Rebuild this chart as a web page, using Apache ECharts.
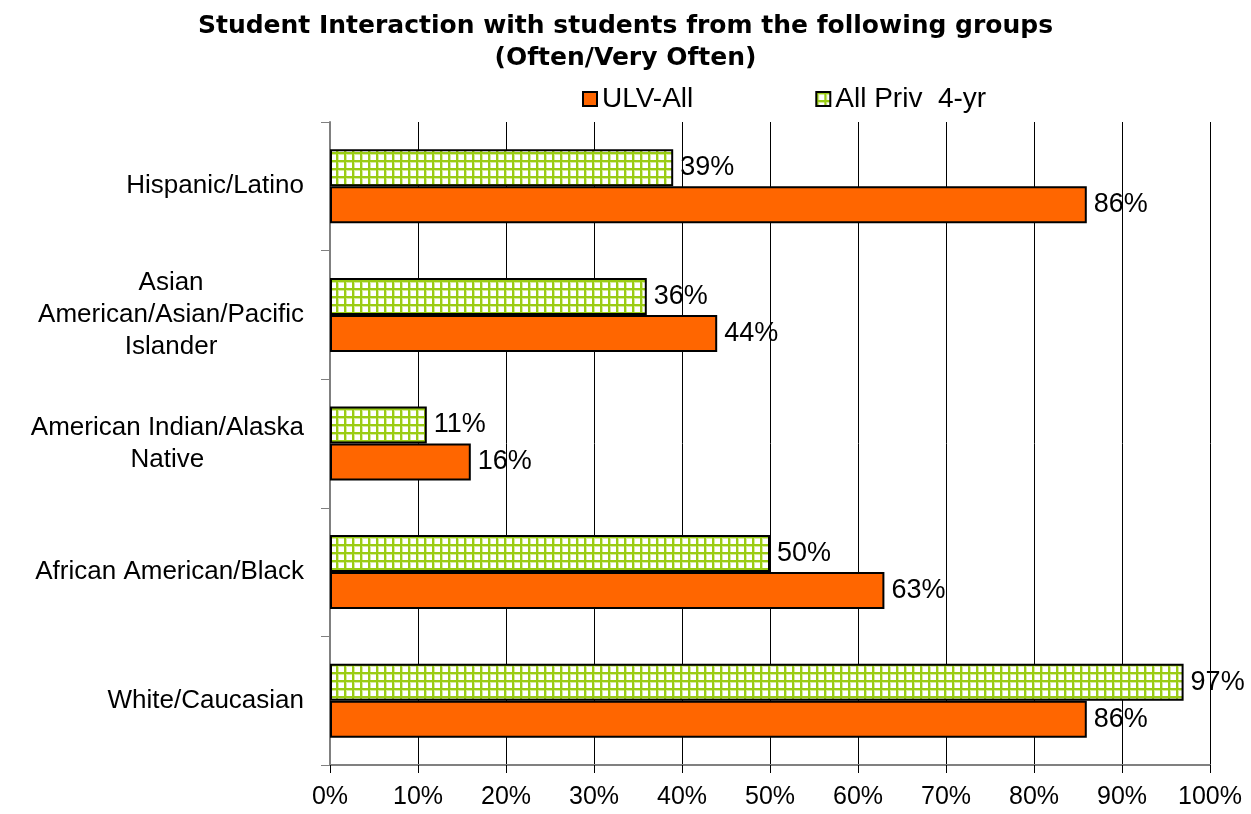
<!DOCTYPE html>
<html>
<head>
<meta charset="utf-8">
<style>
  html, body { margin: 0; padding: 0; background: #fff; }
  #chart { width: 1251px; height: 814px; }
</style>
<script src="https://cdn.jsdelivr.net/npm/echarts@6/dist/echarts.min.js"></script>
</head>
<body>
<div id="chart"></div>
<script>
// Student groups, listed top to bottom
const categories = [
  'Hispanic/Latino',
  'Asian\nAmerican/Asian/Pacific\nIslander',
  'American Indian/Alaska\nNative',
  'African American/Black',
  'White/Caucasian'
];
// Share answering Often / Very Often (%)
const ulvAll = [86, 44, 16, 63, 86];
const allPriv4yr = [39, 36, 11, 50, 97];
const seriesNames = ['ULV-All', 'All Priv  4-yr'];
const xTicks = [0, 10, 20, 30, 40, 50, 60, 70, 80, 90, 100];

const FONT = '"Liberation Sans", Arial, sans-serif';
const TITLE_FONT = '"DejaVu Sans", "Liberation Sans", sans-serif';

// Small green cross-hatch tile for the comparison series
function gridPattern() {
  const c = document.createElement('canvas');
  c.width = 8; c.height = 8;
  const ctx = c.getContext('2d');
  ctx.fillStyle = '#ffffff';
  ctx.fillRect(0, 0, 8, 8);
  ctx.fillStyle = '#d6ec9a';
  ctx.fillRect(0, 0, 3, 8);
  ctx.fillRect(0, 0, 8, 3);
  ctx.fillStyle = '#9acc14';
  ctx.fillRect(0, 0, 2, 8);
  ctx.fillRect(0, 0, 8, 2);
  return { image: c, repeat: 'repeat' };
}
const hatch = gridPattern();

const chart = echarts.init(document.getElementById('chart'));

const labelStyle = {
  show: true,
  position: 'right',
  distance: 7,
  fontFamily: FONT,
  fontSize: 27,
  color: '#000',
  formatter: p => Math.round(p.value) + '%'
};

chart.setOption({
  animation: false,
  backgroundColor: '#fff',
  title: {
    text: 'Student Interaction with students from the following groups\n(Often/Very Often)',
    left: 'center',
    top: 5,
    textStyle: {
      fontFamily: TITLE_FONT,
      fontSize: 25,
      fontWeight: 'bold',
      color: '#000',
      lineHeight: 32
    }
  },
  legend: {
    data: seriesNames,
    left: 577,
    top: 80,
    icon: 'rect',
    itemWidth: 14,
    itemHeight: 14,
    itemGap: 122,
    textStyle: { fontFamily: FONT, fontSize: 28, color: '#000' }
  },
  grid: { left: 330, right: 41, top: 122, bottom: 49, containLabel: false },
  xAxis: {
    type: 'value',
    min: xTicks[0],
    max: xTicks[xTicks.length - 1],
    interval: 10,
    axisLine: { show: true, lineStyle: { color: '#808080', width: 2 } },
    axisTick: { show: true, length: 8, lineStyle: { color: '#000', width: 1 } },
    axisLabel: {
      margin: 20,
      fontFamily: FONT,
      fontSize: 25,
      color: '#000',
      formatter: v => v + '%'
    },
    splitLine: { show: true, lineStyle: { color: '#000', width: 1 } }
  },
  yAxis: {
    type: 'category',
    data: categories,
    inverse: true,
    axisLine: { show: true, lineStyle: { color: '#808080', width: 2 } },
    axisTick: { show: true, length: 9, lineStyle: { color: '#808080', width: 1 } },
    axisLabel: {
      margin: 26,
      color: '#000',
      formatter: v => v.split('\n').map(s => '{c|' + s + '}').join('\n'),
      rich: {
        c: { align: 'center', fontFamily: FONT, fontSize: 26, lineHeight: 32, color: '#000' }
      }
    }
  },
  series: [
    {
      name: seriesNames[1],
      type: 'bar',
      data: allPriv4yr,
      barWidth: 37,
      barGap: '0%',
      itemStyle: { color: hatch, borderColor: '#000', borderWidth: 2 },
      label: labelStyle
    },
    {
      name: seriesNames[0],
      type: 'bar',
      data: ulvAll,
      barWidth: 37,
      barGap: '0%',
      itemStyle: { color: '#ff6600', borderColor: '#000', borderWidth: 2 },
      label: labelStyle
    }
  ]
});
</script>
</body>
</html>
